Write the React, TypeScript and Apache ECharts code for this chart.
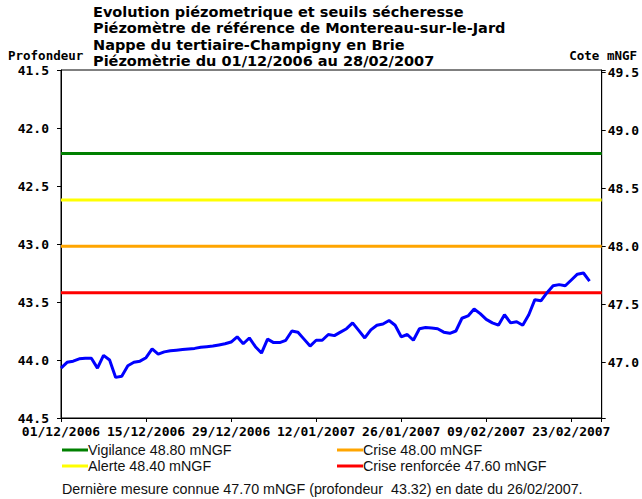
import React, { useEffect, useRef } from "react";
import * as echarts from "echarts";

// Chart content
const titleLines = [
  "Evolution piézometrique et seuils sécheresse",
  "Piézomètre de référence de Montereau-sur-le-Jard",
  "Nappe du tertiaire-Champigny en Brie",
  "Piézomètrie du 01/12/2006 au 28/02/2007",
];
const leftAxisName = "Profondeur";
const rightAxisName = "Cote mNGF";

// x axis: days since 01/12/2006, range to 28/02/2007
const startYear = 2006;
const startMonth = 11; // December (0-based)
const startDay = 1;
const dayMin = 0;
const dayMax = 89;
const dayTickInterval = 14;

// Left axis (depth) and right axis (mNGF)
const depthMin = 41.5;
const depthMax = 44.5;
const ngfMin = 46.52;
const ngfMax = 49.52;

// Daily depth values (m), from 01/12/2006 to 26/02/2007
const depthValues = [
  44.07, 44.02, 44.01, 43.99, 43.985, 43.985, 44.07, 43.96, 44.0, 44.15,
  44.14, 44.05, 44.02, 44.01, 43.98, 43.905, 43.95, 43.93, 43.92, 43.915,
  43.91, 43.905, 43.9, 43.89, 43.885, 43.88, 43.87, 43.86, 43.845, 43.8,
  43.86, 43.81, 43.885, 43.94, 43.82, 43.85, 43.85, 43.83, 43.75, 43.76,
  43.82, 43.88, 43.83, 43.83, 43.78, 43.79, 43.76, 43.73, 43.68, 43.745,
  43.81, 43.74, 43.7, 43.69, 43.66, 43.7, 43.8, 43.78, 43.83, 43.73,
  43.72, 43.725, 43.73, 43.76, 43.77, 43.75, 43.64, 43.62, 43.56, 43.6,
  43.65, 43.68, 43.7, 43.61, 43.68, 43.67, 43.7, 43.61, 43.48, 43.49,
  43.42, 43.36, 43.35, 43.36, 43.31, 43.26, 43.25, 43.32,
];

// Drought thresholds (mNGF)
const thresholdNames = ["Vigilance", "Alerte", "Crise", "Crise renforcée"];
const thresholdValues = [48.8, 48.4, 48.0, 47.6];
const thresholdColors = ["#008000", "#ffff00", "#ffa500", "#ff0000"];

const lastMeasureText =
  "Dernière mesure connue 47.70 mNGF (profondeur  43.32) en date du 26/02/2007.";

const MONO = "'DejaVu Sans Mono', monospace";
const SANS = "'Liberation Sans', Arial, sans-serif";
const TITLE_FONT = "'DejaVu Sans', 'Liberation Sans', sans-serif";

function fmtDay(d: number): string {
  const t = new Date(Date.UTC(startYear, startMonth, startDay) + d * 86400000);
  const dd = String(t.getUTCDate()).padStart(2, "0");
  const mm = String(t.getUTCMonth() + 1).padStart(2, "0");
  return `${dd}/${mm}/${t.getUTCFullYear()}`;
}

export default function App() {
  const ref = useRef<HTMLDivElement>(null);

  useEffect(() => {
    if (!ref.current) return;
    const chart = echarts.init(ref.current, undefined, { renderer: "svg" });

    const thresholdSeries = thresholdNames.map((name, i) => ({
      name: `${name} ${thresholdValues[i].toFixed(2)} mNGF`,
      type: "line",
      yAxisIndex: 1,
      data: [
        [dayMin, thresholdValues[i]],
        [dayMax, thresholdValues[i]],
      ],
      showSymbol: false,
      symbol: "none",
      lineStyle: { color: thresholdColors[i], width: 3 },
      itemStyle: { color: thresholdColors[i] },
      silent: true,
    }));

    // legend positions: 2 columns x 2 rows (Vigilance, Alerte | Crise, Crise renforcée)
    const legendCols = [62, 337];
    const legendRows = [450, 466];
    const legendOrder = [0, 2, 1, 3];
    const legendGraphics: any[] = [];
    legendOrder.forEach((ti, k) => {
      const col = k % 2;
      const row = Math.floor(k / 2);
      const x = legendCols[col];
      const y = legendRows[row];
      legendGraphics.push({
        type: "line",
        shape: { x1: x, y1: y, x2: x + 26, y2: y },
        style: { stroke: thresholdColors[ti], lineWidth: 3 },
      });
      legendGraphics.push({
        type: "text",
        x: x + 26,
        y: y,
        style: {
          text: `${thresholdNames[ti]} ${thresholdValues[ti].toFixed(2)} mNGF`,
          font: `14.3px ${SANS}`,
          fill: "#111",
          verticalAlign: "middle",
        },
      });
    });

    const axisLabelStyle = {
      color: "#000",
      fontFamily: MONO,
      fontWeight: "bold",
      fontSize: 13,
    };

    // Title as four separate text lines
    const titleGraphics = titleLines.map((line, i) => ({
      type: "text",
      x: 93,
      y: 12 + i * 16.3,
      style: {
        text: line,
        font: `bold 14.5px ${TITLE_FONT}`,
        fill: "#000",
        verticalAlign: "middle",
      },
    }));

    chart.setOption({
      animation: false,
      backgroundColor: "#ffffff",
      grid: {
        left: 61,
        top: 70,
        width: 541,
        height: 348,
        show: true,
        borderColor: "#000",
        borderWidth: 1,
        backgroundColor: "transparent",
      },
      xAxis: {
        type: "value",
        min: dayMin,
        max: dayMax,
        interval: dayTickInterval,
        axisLine: { show: true, lineStyle: { color: "#000", width: 1 } },
        axisTick: { show: true, length: 4, lineStyle: { color: "#000" } },
        splitLine: { show: false },
        axisLabel: {
          ...axisLabelStyle,
          margin: 7,
          formatter: (v: number) => (v % dayTickInterval === 0 ? fmtDay(v) : ""),
        },
      },
      yAxis: [
        {
          type: "value",
          inverse: true,
          min: depthMin,
          max: depthMax,
          interval: 0.5,
          position: "left",
          axisLine: { show: true, lineStyle: { color: "#000", width: 1 } },
          axisTick: { show: true, length: 4, lineStyle: { color: "#000" } },
          splitLine: { show: false },
          axisLabel: {
            ...axisLabelStyle,
            margin: 12,
            formatter: (v: number) => v.toFixed(1),
          },
        },
        {
          type: "value",
          min: ngfMin,
          max: ngfMax,
          splitNumber: 6,
          position: "right",
          axisLine: { show: true, lineStyle: { color: "#000", width: 1 } },
          axisTick: { show: true, length: 4, lineStyle: { color: "#000" } },
          splitLine: { show: false },
          axisLabel: {
            ...axisLabelStyle,
            margin: 6,
            formatter: (v: number) =>
              Math.abs(v * 2 - Math.round(v * 2)) < 1e-6 ? v.toFixed(1) : "",
          },
        },
      ],
      series: [
        ...thresholdSeries,
        {
          name: "Piézométrie",
          type: "line",
          yAxisIndex: 0,
          data: depthValues.map((v, i) => [i, v]),
          showSymbol: false,
          symbol: "none",
          lineStyle: { color: "#0000ff", width: 3 },
          itemStyle: { color: "#0000ff" },
          silent: true,
        },
      ],
      graphic: [
        ...titleGraphics,
        {
          type: "text",
          x: 8,
          y: 55,
          style: {
            text: leftAxisName,
            font: `bold 12.5px ${MONO}`,
            fill: "#000",
            verticalAlign: "middle",
          },
        },
        {
          type: "text",
          x: 637,
          y: 55,
          style: {
            text: rightAxisName,
            font: `bold 12.5px ${MONO}`,
            fill: "#000",
            align: "right",
            verticalAlign: "middle",
          },
        },
        ...legendGraphics,
        {
          type: "text",
          x: 62,
          y: 489,
          style: {
            text: lastMeasureText,
            font: `14.3px ${SANS}`,
            fill: "#111",
            verticalAlign: "middle",
          },
        },
      ],
    });

    return () => chart.dispose();
  }, []);

  return (
    <div
      ref={ref}
      style={{
        position: "fixed",
        left: 0,
        top: 0,
        width: 642,
        height: 499,
        background: "#fff",
      }}
    />
  );
}
